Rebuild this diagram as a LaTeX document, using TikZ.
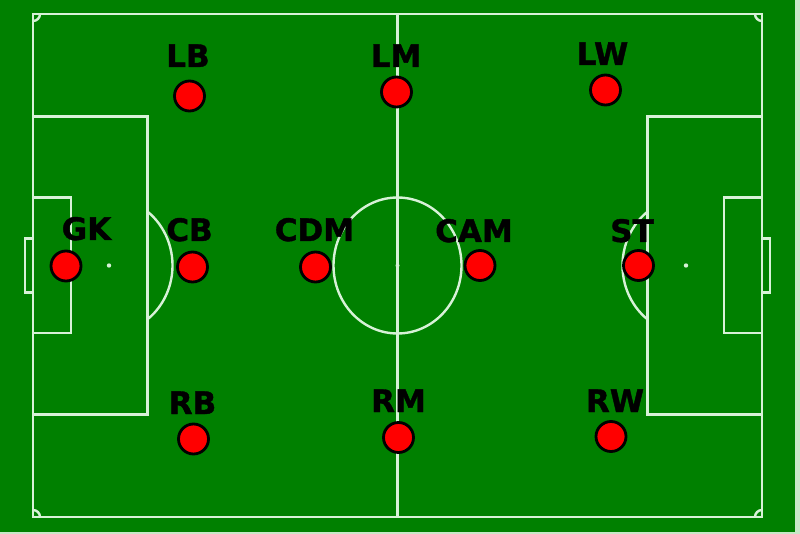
\documentclass[tikz,border=0pt]{standalone}
\usepackage{fontspec}
\setmainfont{DejaVu Sans}
\newfontfamily\labfont[FakeBold=1.2]{DejaVu Sans Bold}
\definecolor{pitch}{RGB}{0,128,0}
\definecolor{chalk}{RGB}{215,242,215}
\definecolor{edge}{RGB}{200,232,200}
\definecolor{shirt}{RGB}{255,0,0}
\begin{document}
\begin{tikzpicture}[x=1pt,y=-1pt,
  pline/.style={draw=chalk,line width=2.4pt},
  player/.style={circle,fill=shirt,draw=black,line width=2.8pt,minimum size=30pt,inner sep=0pt},
  plabel/.style={anchor=base,inner sep=0pt,font=\fontsize{31}{31}\labfont,text=black},
  spot/.style={fill=chalk}]
\useasboundingbox (0,0) rectangle (800,534);
\fill[edge] (0,0) rectangle (800,534);
\fill[pitch] (0,0) rectangle (795,531.5);
% pitch outline and halfway line
\draw[pline] (33,14) rectangle (762,517);
\draw[pline] (397.5,14) -- (397.5,517);
% centre circle and spot
\draw[pline] (397.5,265.5) ellipse [x radius=64,y radius=68];
\fill[spot] (397.5,265.5) circle [radius=2];
% left penalty area, goal area, goal, spot, arc
\draw[pline] (33,116.5) -- (147.5,116.5) -- (147.5,414.5) -- (33,414.5);
\draw[pline] (33,197.7) -- (71,197.7) -- (71,333.3) -- (33,333.3);
\draw[pline] (33,238.5) -- (25,238.5) -- (25,292.5) -- (33,292.5);
\fill[spot] (109,265.5) circle [radius=2.2];
\draw[pline] (147.5,211.6) arc [start angle=-52.7,end angle=52.7,x radius=63.5,y radius=67.7];
% right penalty area, goal area, goal, spot, arc
\draw[pline] (762,116.5) -- (647.5,116.5) -- (647.5,414.5) -- (762,414.5);
\draw[pline] (762,197.7) -- (724,197.7) -- (724,333.3) -- (762,333.3);
\draw[pline] (762,238.5) -- (770,238.5) -- (770,292.5) -- (762,292.5);
\fill[spot] (686,265.5) circle [radius=2.2];
\draw[pline] (647.5,319.4) arc [start angle=127.3,end angle=232.7,x radius=63.5,y radius=67.7];
% corner arcs
\draw[pline] (33,21) arc [start angle=90,end angle=0,radius=7];
\draw[pline] (755,14) arc [start angle=180,end angle=90,radius=7];
\draw[pline] (40,517) arc [start angle=0,end angle=-90,radius=7];
\draw[pline] (762,510) arc [start angle=-90,end angle=-180,radius=7];
% players
\node[player] (gk)  at (66,266) {};
\node[player] (cb)  at (192.5,267) {};
\node[player] (cdm) at (315.5,267) {};
\node[player] (cam) at (480,265.5) {};
\node[player] (st)  at (638.5,265.5) {};
\node[player] (lb)  at (189.5,96) {};
\node[player] (lm)  at (396.5,92) {};
\node[player] (lw)  at (605.5,90) {};
\node[player] (rb)  at (193.5,439) {};
\node[player] (rm)  at (398.5,437.5) {};
\node[player] (rw)  at (611,436.5) {};
% labels
\node[plabel] (tgk)  at (86.5,240) {GK};
\node[plabel] (tcb)  at (189.5,241) {CB};
\node[plabel] (tcdm) at (314.5,241) {CDM};
\node[plabel] (tcam) at (474,242) {CAM};
\node[plabel] (tst)  at (632,242) {ST};
\node[plabel] (tlb)  at (188,67) {LB};
\node[plabel] (tlm)  at (396,67) {LM};
\node[plabel] (tlw)  at (602.5,65) {LW};
\node[plabel] (trb)  at (192.5,414) {RB};
\node[plabel] (trm)  at (398.5,412) {RM};
\node[plabel] (trw)  at (615,412) {RW};
\end{tikzpicture}
\end{document}
